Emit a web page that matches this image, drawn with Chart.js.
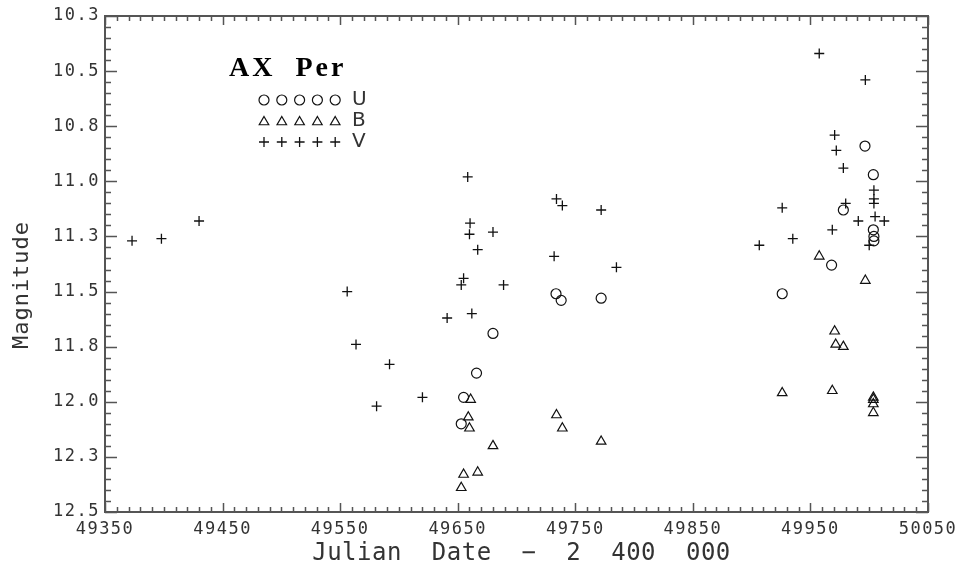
<!DOCTYPE html>
<html>
<head>
<meta charset="utf-8">
<script src="https://cdn.jsdelivr.net/npm/chart.js@4"></script>
<style>
  html, body { margin: 0; padding: 0; background: #fff; }
</style>
</head>
<body>
<canvas id="myChart" width="964" height="572"></canvas>
<script>
// U band (circles)
const uDates = [49655, 49653, 49666, 49680, 49733.6, 49738, 49772, 49926, 49968, 49978, 49996.4, 50003.5, 50003.5, 50004, 50004];
const uMags = [11.98, 12.10, 11.87, 11.69, 11.51, 11.54, 11.53, 11.51, 11.38, 11.13, 10.84, 10.97, 11.22, 11.25, 11.27];

// B band (triangles)
const bDates = [49653, 49655, 49667, 49661, 49659, 49660, 49680, 49734, 49739, 49772, 49926, 49957.5, 49968.6, 49970.6, 49971.5, 49978, 49996.7, 50003.5, 50003.5, 50003.5, 50003.5];
const bMags = [12.39, 12.33, 12.32, 11.99, 12.07, 12.12, 12.20, 12.06, 12.12, 12.18, 11.96, 11.34, 11.95, 11.68, 11.74, 11.75, 11.45, 11.98, 11.99, 12.01, 12.05];

// V band (plus signs)
const vDates = [49373, 49398, 49430, 49556, 49563.5, 49592, 49581, 49620, 49641, 49655, 49653, 49662, 49658.5, 49660.5, 49660, 49667, 49680, 49689, 49732, 49734, 49739, 49772, 49785, 49906.5, 49926, 49935, 49957.5, 49968.6, 49970.6, 49972, 49978, 49980, 49990.7, 49996.7, 50004, 50004, 50004, 50005, 50012.8, 50000];
const vMags = [11.27, 11.26, 11.18, 11.50, 11.74, 11.83, 12.02, 11.98, 11.62, 11.44, 11.47, 11.60, 10.98, 11.19, 11.24, 11.31, 11.23, 11.47, 11.34, 11.08, 11.11, 11.13, 11.39, 11.29, 11.12, 11.26, 10.42, 11.22, 10.79, 10.86, 10.94, 11.10, 11.18, 10.54, 11.04, 11.08, 11.10, 11.16, 11.18, 11.29];

const xTicks = [49350, 49450, 49550, 49650, 49750, 49850, 49950, 50050];
const yTicks = [10.25, 10.5, 10.75, 11.0, 11.25, 11.5, 11.75, 12.0, 12.25, 12.5];

const starName = 'AX  Per';
const bandNames = ['U', 'B', 'V'];
const xTitle = 'Julian  Date  \u2212  2  400  000';
const yTitle = 'Magnitude';

const ink = '#111';
const axisGray = '#555';

const toPoints = (xs, ys) => xs.map((x, i) => ({ x: x, y: ys[i] }));

// frame with inward major/minor ticks on all four sides
const framePlugin = {
    id: 'frame',
    beforeDraw(chart) {
        chart.ctx.letterSpacing = '1.5px';
    },
    afterDraw(chart) {
        const ctx = chart.ctx;
        const a = chart.chartArea;
        const xs = chart.scales.x;
        const ys = chart.scales.y;
        ctx.save();
        ctx.letterSpacing = '0px';
        ctx.strokeStyle = axisGray;
        ctx.lineWidth = 2;
        ctx.strokeRect(a.left, a.top, a.right - a.left, a.bottom - a.top);
        ctx.lineWidth = 1.5;
        ctx.beginPath();
        for (let i = 0; i <= 70; i++) {
            const px = Math.round(xs.getPixelForValue(49350 + i * 10)) + 0.5;
            const len = i % 10 === 0 ? 9 : 5;
            ctx.moveTo(px, a.bottom); ctx.lineTo(px, a.bottom - len);
            ctx.moveTo(px, a.top); ctx.lineTo(px, a.top + len);
        }
        for (let i = 0; i <= 45; i++) {
            const py = Math.round(ys.getPixelForValue(10.25 + i * 0.05)) + 0.5;
            const len = i % 5 === 0 ? 12 : 6;
            ctx.moveTo(a.left, py); ctx.lineTo(a.left + len, py);
            ctx.moveTo(a.right, py); ctx.lineTo(a.right - len, py);
        }
        ctx.stroke();

        // axis titles
        ctx.fillStyle = '#333';
        ctx.font = '24px "DejaVu Sans Mono"';
        ctx.textAlign = 'center';
        ctx.textBaseline = 'middle';
        ctx.letterSpacing = '0.5px';
        ctx.fillText(xTitle, (a.left + a.right) / 2 + 5, 554);
        ctx.save();
        ctx.translate(22, 285);
        ctx.rotate(-Math.PI / 2);
        ctx.font = '22px "DejaVu Sans Mono"';
        ctx.letterSpacing = '1px';
        ctx.fillText(yTitle, 0, 0);
        ctx.restore();

        // star name
        ctx.letterSpacing = '3px';
        ctx.textAlign = 'left';
        ctx.textBaseline = 'alphabetic';
        ctx.fillStyle = '#000';
        ctx.font = 'bold 28px "Liberation Serif"';
        ctx.fillText(starName, 229, 76);

        // legend rows
        ctx.letterSpacing = '0px';
        ctx.font = '20px "DejaVu Sans"';
        ctx.fillStyle = '#333';
        ctx.textBaseline = 'middle';
        chart.data.datasets.forEach((ds, k) => {
            const y = 100 + k * 21;
            ctx.strokeStyle = ink;
            ctx.lineWidth = ds.borderWidth;
            ctx.fillStyle = 'rgba(0,0,0,0)';
            for (let j = 0; j < 5; j++) {
                Chart.helpers.drawPoint(ctx, {
                    pointStyle: ds.pointStyle,
                    radius: ds.pointRadius,
                    rotation: 0,
                    borderWidth: ds.borderWidth
                }, 264 + j * 17.8, ds.pointStyle === 'triangle' ? y + 1 : y);
            }
            ctx.fillStyle = '#333';
            ctx.fillText(bandNames[k], 352, y);
        });
        ctx.restore();
    }
};

const ctx = document.getElementById('myChart');

new Chart(ctx, {
    type: 'scatter',
    data: {
        datasets: [
            {
                label: 'U',
                data: toPoints(uDates, uMags),
                pointStyle: 'circle',
                pointRadius: 5,
                borderColor: ink,
                backgroundColor: 'rgba(0,0,0,0)',
                borderWidth: 1.2
            },
            {
                label: 'B',
                data: toPoints(bDates, bMags),
                pointStyle: 'triangle',
                pointRadius: 5.5,
                borderColor: ink,
                backgroundColor: 'rgba(0,0,0,0)',
                borderWidth: 1.2
            },
            {
                label: 'V',
                data: toPoints(vDates, vMags),
                pointStyle: 'cross',
                pointRadius: 5,
                borderColor: ink,
                backgroundColor: 'rgba(0,0,0,0)',
                borderWidth: 1.3
            }
        ]
    },
    options: {
        responsive: false,
        animation: false,
        layout: { padding: { left: 0, right: 36, top: 16, bottom: 0 } },
        plugins: {
            legend: { display: false },
            tooltip: { enabled: false }
        },
        scales: {
            x: {
                type: 'linear',
                min: 49350,
                max: 50050,
                grid: { display: false, drawTicks: false, tickLength: 0 },
                border: { display: false },
                afterBuildTicks: (scale) => { scale.ticks = xTicks.map(v => ({ value: v })); },
                afterFit: (scale) => { scale.height = 60; },
                ticks: {
                    autoSkip: false,
                    maxRotation: 0,
                    padding: 7,
                    color: '#333',
                    font: { family: 'DejaVu Sans Mono', size: 17 },
                    callback: (v) => String(v)
                }
            },
            y: {
                type: 'linear',
                reverse: true,
                min: 10.25,
                max: 12.5,
                grid: { display: false, drawTicks: false, tickLength: 0 },
                border: { display: false },
                afterBuildTicks: (scale) => { scale.ticks = yTicks.map(v => ({ value: v })); },
                afterFit: (scale) => { scale.width = 105; },
                ticks: {
                    autoSkip: false,
                    padding: 5,
                    color: '#333',
                    font: { family: 'DejaVu Sans Mono', size: 17 },
                    callback: (v) => v.toFixed(1)
                }
            }
        }
    },
    plugins: [framePlugin]
});
</script>
</body>
</html>
